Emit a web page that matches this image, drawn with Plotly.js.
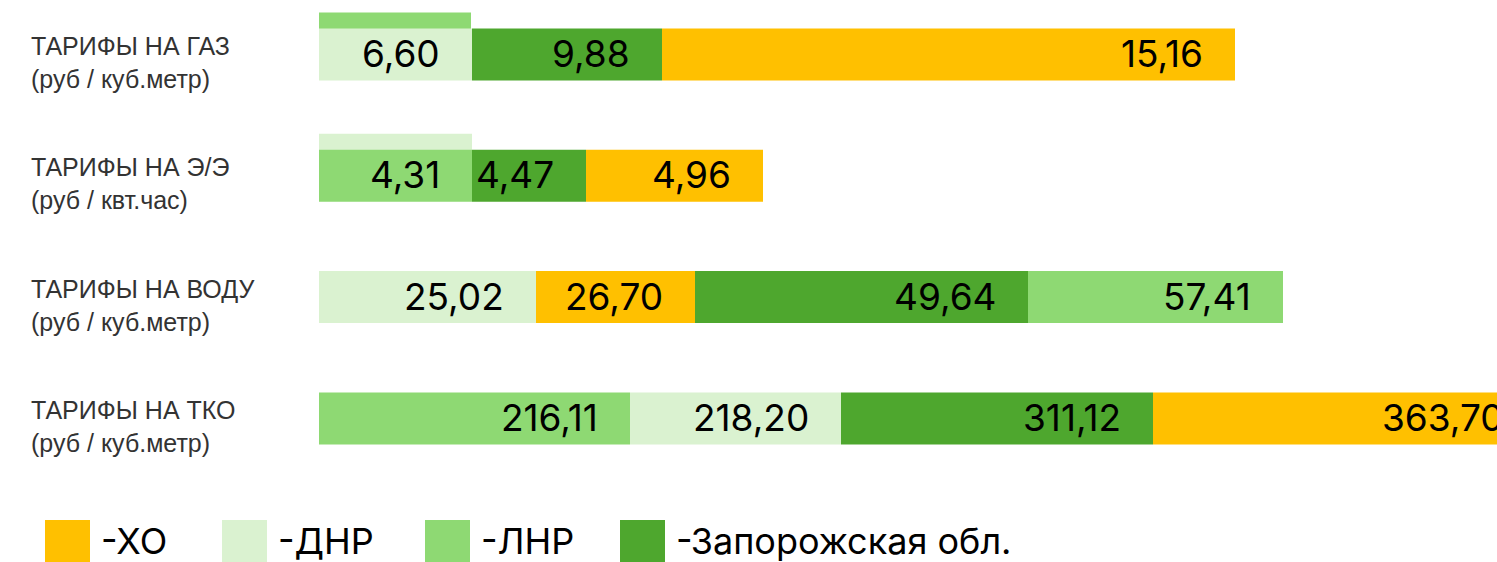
<!DOCTYPE html>
<html><head><meta charset="utf-8">
<script src="https://cdn.plot.ly/plotly-3.0.1.min.js"></script>
<style>html,body{margin:0;padding:0;overflow:hidden;background:#fff;width:1497px;height:562px}#chart{width:1600px;height:562px}</style>
</head><body><div id="chart"></div>
<script>
// ---- data ----
const categories = ['ТАРИФЫ НА ГАЗ', 'ТАРИФЫ НА Э/Э', 'ТАРИФЫ НА ВОДУ', 'ТАРИФЫ НА ТКО'];
const unitLabels = ['(руб / куб.метр)', '(руб / квт.час)', '(руб / куб.метр)', '(руб / куб.метр)'];
const seriesNames = ['ХО', 'ДНР', 'ЛНР', 'Запорожская обл.'];
const valuesXO  = [15.16, 4.96, 26.70, 363.70];
const valuesDNR = [6.60, null, 25.02, 218.20];
const valuesLNR = [null, 4.31, 57.41, 216.11];
const valuesZap = [9.88, 4.47, 49.64, 311.12];
// drawn bar lengths (the infographic is not to scale)
const lengthXO  = [573, 177, 159, 383];
const lengthDNR = [153, 153, 217, 211];
const lengthLNR = [152, 153, 255, 311];
const lengthZap = [190, 114, 333, 312];

// ---- style ----
const colors = ['#FFC000', '#DAF2D0', '#8ED973', '#4EA72E'];
const W = 1600, H = 562, ML = 319, MB = 82, MT = 0;
const plotW = W - ML, plotH = H - MT - MB;
const yTop = -0.449, yBot = 3.508;
const pxPerUnit = plotH / (yBot - yTop);
const barW = 52 / pxPerUnit;
const ghostShift = 16 / pxPerUnit;

const values = [valuesXO, valuesDNR, valuesLNR, valuesZap];
const lengths = [lengthXO, lengthDNR, lengthLNR, lengthZap];
const fmt = v => v.toFixed(2).replace('.', ',');

// compute bases per row: ascending order of values
const bases = values.map(() => categories.map(() => 0));
categories.forEach((c, r) => {
  const order = [0,1,2,3].filter(s => values[s][r] !== null)
                         .sort((a, b) => values[a][r] - values[b][r]);
  let acc = 0;
  order.forEach(s => { bases[s][r] = acc; acc += lengths[s][r]; });
});

const ghostTraces = [], mainTraces = [], annotations = [];
seriesNames.forEach((name, s) => {
  const gy = [], gx = [];
  const my = [], mx = [], mb = [];
  categories.forEach((c, r) => {
    if (values[s][r] === null) { gy.push(r - ghostShift); gx.push(lengths[s][r]); }
    else {
      my.push(r); mx.push(lengths[s][r]); mb.push(bases[s][r]);
      annotations.push({
        xref: 'x', yref: 'y', x: bases[s][r] + lengths[s][r], y: r,
        xanchor: 'right', yanchor: 'middle', xshift: -30, yshift: 1,
        text: fmt(values[s][r]), showarrow: false,
        font: {family: 'Inter, Roboto, sans-serif', size: 37, color: '#000'}
      });
    }
  });
  if (gy.length) ghostTraces.push({
    type: 'bar', orientation: 'h', name: name, y: gy, x: gx, base: 0,
    width: barW, marker: {color: colors[s], line: {width: 0}}, hoverinfo: 'skip'
  });
  mainTraces.push({
    type: 'bar', orientation: 'h', name: name, y: my, x: mx, base: mb,
    width: barW, marker: {color: colors[s], line: {width: 0}}, hoverinfo: 'skip'
  });
});

// category labels
const toPaperX = px => (px - ML) / plotW;
const toPaperY = py => (MT + plotH - py) / plotH;
categories.forEach((c, r) => {
  annotations.push({
    xref: 'paper', yref: 'y', x: toPaperX(29), y: r, yshift: -8,
    xanchor: 'left', yanchor: 'middle', align: 'left', showarrow: false,
    text: c + '<br>' + unitLabels[r],
    font: {family: 'Liberation Sans, Arial, sans-serif', size: 25, color: '#333333'}
  });
});

// manual legend with large squares
const legendX = [45, 222, 425, 620];
const shapes = [];
seriesNames.forEach((name, s) => {
  shapes.push({
    type: 'rect', xref: 'paper', yref: 'paper',
    x0: toPaperX(legendX[s]), x1: toPaperX(legendX[s] + 45),
    y0: toPaperY(566), y1: toPaperY(520),
    fillcolor: colors[s], line: {width: 0}
  });
  annotations.push({
    xref: 'paper', yref: 'paper', x: toPaperX(legendX[s] + 54), y: toPaperY(541),
    xanchor: 'left', yanchor: 'middle', showarrow: false, text: '-' + name,
    font: {family: 'Inter, Roboto, sans-serif', size: 36, color: '#000'}
  });
});

const layout = {
  width: W, height: H,
  margin: {l: ML, r: 0, t: MT, b: MB, pad: 0},
  paper_bgcolor: '#fff', plot_bgcolor: '#fff',
  barmode: 'overlay', showlegend: false,
  xaxis: {range: [0, plotW], visible: false, fixedrange: true},
  yaxis: {range: [yBot, yTop], visible: false, fixedrange: true},
  annotations: annotations, shapes: shapes
};
Plotly.newPlot('chart', ghostTraces.concat(mainTraces), layout, {staticPlot: true, displayModeBar: false});
</script></body></html>
